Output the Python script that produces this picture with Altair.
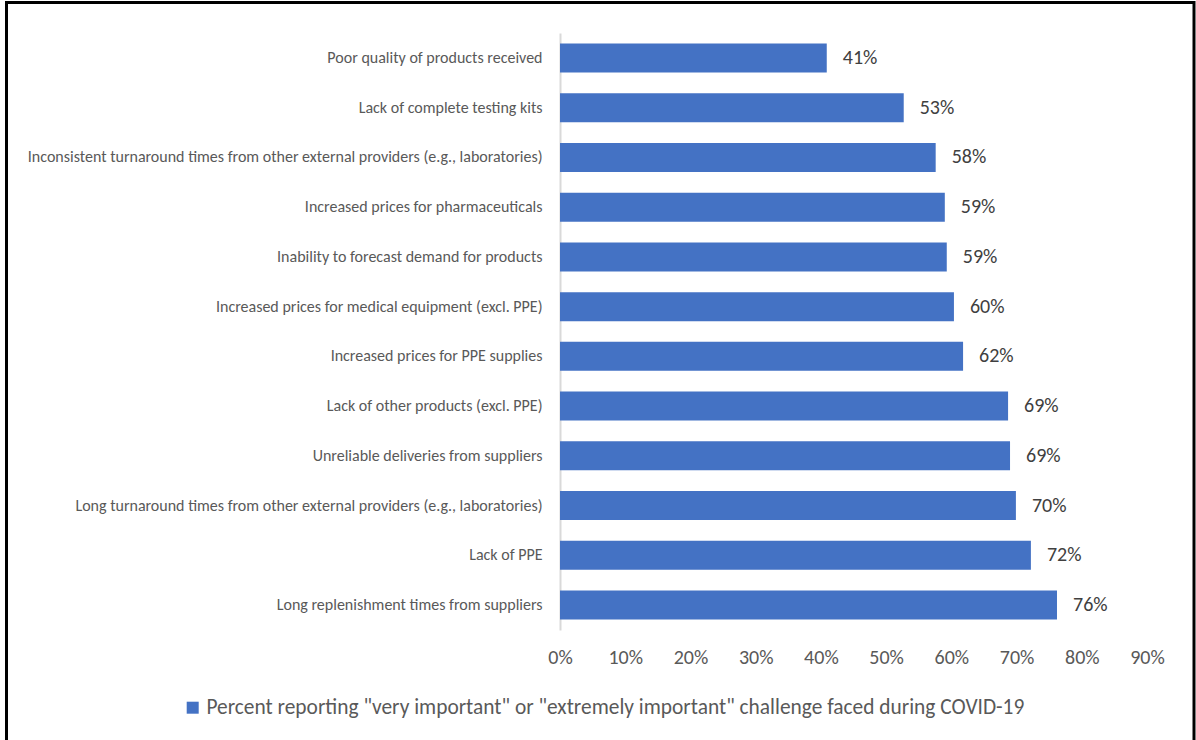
import altair as alt
import pandas as pd

categories = [
    "Poor quality of products received",
    "Lack of complete testing kits",
    "Inconsistent turnaround times from other external providers (e.g., laboratories)",
    "Increased prices for pharmaceuticals",
    "Inability to forecast demand for products",
    "Increased prices for medical equipment (excl. PPE)",
    "Increased prices for PPE supplies",
    "Lack of other products (excl. PPE)",
    "Unreliable deliveries from suppliers",
    "Long turnaround times from other external providers (e.g., laboratories)",
    "Lack of PPE",
    "Long replenishment times from suppliers",
]
values = [0.409, 0.527, 0.576, 0.590, 0.593, 0.604, 0.618, 0.687, 0.690, 0.699, 0.722, 0.762]
series_name = 'Percent reporting "very important" or "extremely important" challenge faced during COVID-19'
tick_values = [0.0, 0.1, 0.2, 0.3, 0.4, 0.5, 0.6, 0.7, 0.8, 0.9]

df = pd.DataFrame({"category": categories, "value": values, "series": [series_name] * len(categories)})

FONT = "Carlito, Lato, sans-serif"

x_enc = alt.X(
    "value:Q",
    scale=alt.Scale(domain=[0, 0.9], nice=False),
    axis=alt.Axis(
        values=tick_values, format=".0%", title=None, domain=False, ticks=False, grid=False,
        labelFontSize=20, labelColor="#595959", labelPadding=17, labelFont=FONT,
        labelFlush=False, labelOverlap=False,
    ),
)
y_enc = alt.Y(
    "category:N",
    sort=categories,
    scale=alt.Scale(paddingInner=0.417, paddingOuter=0.21),
    axis=alt.Axis(
        title=None, ticks=False, grid=False, domain=True, domainColor="#D9D9D9", domainWidth=2,
        labelFontSize=16, labelColor="#595959", labelPadding=18, labelLimit=700, labelFont=FONT,
    ),
)

bars = alt.Chart(df).mark_bar(color="#4472C4").encode(
    x=x_enc,
    y=y_enc,
    color=alt.Color(
        "series:N",
        scale=alt.Scale(range=["#4472C4"]),
        legend=alt.Legend(
            title=None, orient="none", legendX=-378, legendY=664, symbolType="square",
            symbolSize=144, symbolStrokeWidth=0, labelFontSize=21.4, labelColor="#595959",
            labelLimit=1000, labelOffset=3, labelFont=FONT, padding=0,
        ),
    ),
)

labels = alt.Chart(df).mark_text(
    align="left", baseline="middle", dx=16, fontSize=20, color="#404040", font=FONT
).encode(
    x="value:Q",
    y=alt.Y("category:N", sort=categories),
    text=alt.Text("value:Q", format=".0%"),
)

border = alt.Chart(alt.Data(values=[{}])).mark_rect(
    filled=False, stroke="black", strokeWidth=3
).encode(
    x=alt.value(-553.5), x2=alt.value(634), y=alt.value(-30.5), y2=alt.value(712)
)

chart = alt.layer(bars, labels, border).properties(
    width=587,
    height=597,
    autosize=alt.AutoSizeParams(type="none"),
    padding={"left": 560, "top": 33, "right": 49, "bottom": 110},
    background="white",
).configure_view(stroke=None)

chart.save("out.html", embed_options={"renderer": "svg", "actions": False})
